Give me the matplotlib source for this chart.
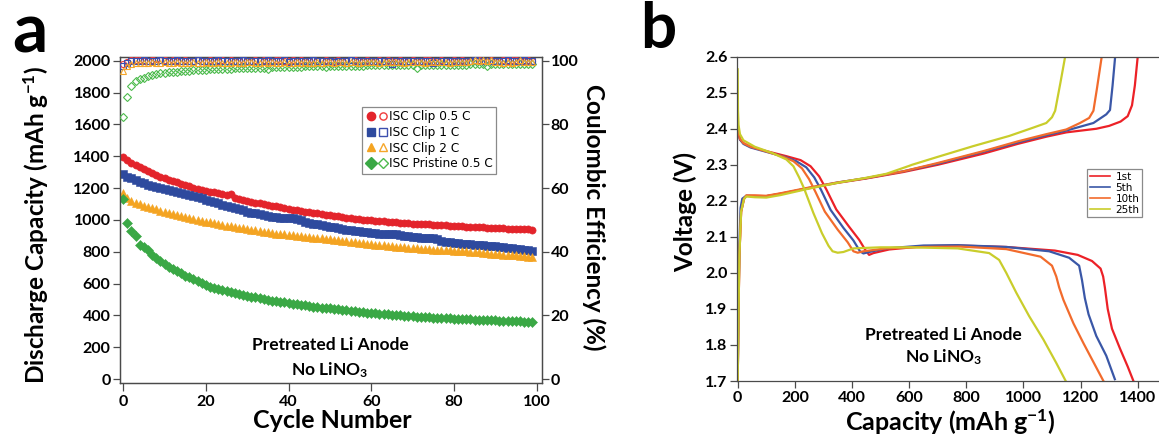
import matplotlib
matplotlib.use("Agg")
import matplotlib.pyplot as plt
from matplotlib.lines import Line2D
from matplotlib.legend_handler import HandlerTuple

plt.rcParams["font.family"] = ["Lato", "DejaVu Sans"]
plt.rcParams["mathtext.fontset"] = "custom"
plt.rcParams["mathtext.rm"] = "Lato:bold"
plt.rcParams["mathtext.bf"] = "Lato:bold"
plt.rcParams["mathtext.it"] = "Lato:bold"

# ---------------- cycling data (panel a) ----------------
cap_clip_05C = [1397, 1375, 1358, 1343, 1330, 1318, 1306, 1295, 1284, 1272,
                1262, 1252, 1244, 1236, 1228, 1218, 1210, 1202, 1195, 1189,
                1182, 1177, 1172, 1166, 1160, 1155, 1160, 1140, 1132, 1124,
                1117, 1112, 1108, 1103, 1099, 1094, 1089, 1084, 1078, 1072,
                1066, 1063, 1059, 1055, 1051, 1047, 1043, 1040, 1036, 1033,
                1030, 1026, 1022, 1018, 1014, 1010, 1007, 1004, 1001, 999,
                997, 995, 993, 991, 989, 987, 985, 983, 981, 979,
                977, 975, 974, 972, 971, 969, 968, 966, 965, 963,
                962, 960, 959, 958, 956, 955, 954, 952, 951, 950,
                948, 947, 946, 945, 944, 943, 942, 941, 940, 939]
cap_clip_1C = [1288, 1272, 1260, 1248, 1238, 1230, 1222, 1215, 1208, 1202,
               1196, 1188, 1180, 1173, 1166, 1160, 1153, 1147, 1141, 1135,
               1127, 1120, 1112, 1104, 1096, 1088, 1081, 1074, 1067, 1060,
               1052, 1046, 1040, 1035, 1030, 1025, 1020, 1016, 1013, 1011,
               1010, 1012, 1004, 996, 989, 983, 977, 971, 966, 961,
               957, 952, 947, 943, 939, 935, 931, 928, 925, 922,
               919, 916, 913, 910, 908, 912, 910, 905, 900, 896,
               893, 890, 888, 887, 887, 885, 878, 870, 863, 858,
               855, 852, 850, 848, 846, 844, 842, 840, 838, 836,
               834, 831, 828, 825, 822, 819, 816, 813, 810, 807]
cap_clip_2C = [1166, 1135, 1120, 1108, 1097, 1088, 1080, 1072, 1065, 1058,
               1051, 1044, 1037, 1031, 1025, 1019, 1013, 1007, 1001, 995,
               989, 984, 979, 974, 969, 964, 959, 955, 951, 946,
               942, 938, 934, 930, 926, 922, 918, 914, 911, 908,
               905, 902, 899, 896, 893, 891, 888, 885, 883, 880,
               877, 874, 871, 868, 865, 862, 859, 856, 853, 850,
               847, 844, 842, 839, 837, 834, 832, 829, 827, 824,
               822, 820, 818, 816, 814, 812, 811, 810, 809, 808,
               807, 806, 805, 803, 801, 798, 795, 792, 790, 788,
               786, 784, 782, 780, 778, 776, 773, 770, 767, 764]
cap_pristine_05C = [1129, 982, 932, 898, 845, 832, 808, 782, 760, 740,
                    722, 705, 690, 676, 663, 650, 638, 627, 616, 606,
                    589, 581, 573, 566, 559, 552, 546, 540, 534, 528,
                    523, 518, 513, 508, 503, 498, 493, 489, 485, 481,
                    477, 473, 469, 465, 462, 458, 455, 452, 449, 446,
                    443, 440, 437, 434, 431, 428, 425, 423, 420, 417,
                    415, 412, 410, 408, 406, 404, 402, 400, 398, 396,
                    394, 392, 391, 389, 388, 386, 385, 383, 382, 381,
                    379, 378, 377, 376, 375, 373, 372, 371, 370, 369,
                    368, 367, 366, 365, 364, 363, 362, 361, 360, 359]

ce_clip_05C = [98.8, 99.6, 100.2, 100.1, 100.3, 100.0, 99.8, 100.2, 100.4, 100.1,
               100.3, 99.9, 100.1, 100.0, 99.8, 100.2, 100.0, 99.9, 100.1, 99.8,
               100.0, 100.2, 99.9, 100.0, 100.1, 99.8, 100.3, 99.9, 100.0, 100.1,
               99.8, 100.0, 100.2, 99.9, 100.1, 100.0, 99.8, 100.1, 100.3, 99.9,
               100.0, 100.2, 99.8, 100.1, 100.0, 99.9, 100.1, 100.0, 99.8, 100.2,
               100.0, 99.9, 100.1, 100.0, 99.8, 100.1, 100.2, 99.9, 100.0, 100.1,
               99.9, 100.0, 100.2, 99.8, 100.1, 100.0, 99.9, 100.1, 100.0, 99.8,
               100.2, 100.0, 99.9, 100.1, 100.3, 99.9, 100.0, 100.1, 99.8, 100.0,
               100.2, 99.9, 100.1, 100.0, 99.8, 100.1, 100.2, 99.9, 100.0, 100.1,
               99.9, 100.0, 100.2, 99.8, 100.1, 100.3, 100.0, 99.9, 100.1, 100.0]
ce_clip_1C = [98.3, 99.4, 99.8, 100.0, 99.9, 100.1, 100.0, 99.8, 100.0, 100.1,
              99.9, 100.0, 99.8, 100.1, 100.0, 99.9, 99.8, 100.0, 100.1, 99.9,
              100.0, 99.8, 99.9, 100.1, 100.0, 99.9, 99.8, 100.0, 99.9, 100.1,
              100.0, 99.8, 99.9, 100.0, 99.9, 100.1, 99.8, 99.9, 100.0, 100.1,
              99.7, 100.0, 99.9, 99.8, 100.0, 99.9, 100.1, 99.8, 99.9, 100.0,
              99.9, 99.7, 100.0, 99.9, 99.8, 100.1, 99.9, 100.0, 99.8, 99.9,
              100.0, 99.8, 99.9, 100.0, 99.9, 98.8, 99.9, 100.0, 99.8, 99.9,
              100.0, 99.9, 99.8, 100.0, 99.9, 99.2, 99.8, 100.0, 99.9, 99.8,
              100.0, 99.9, 99.8, 100.0, 99.9, 100.1, 99.8, 99.9, 100.0, 99.9,
              99.8, 100.0, 99.9, 100.1, 99.8, 99.9, 100.0, 100.2, 99.9, 100.0]
ce_clip_2C = [96.8, 98.2, 98.9, 99.2, 99.3, 99.4, 99.3, 99.5, 99.4, 99.3,
              99.5, 99.4, 99.3, 99.5, 99.4, 99.3, 99.4, 99.5, 99.3, 99.4,
              99.5, 99.4, 99.3, 99.5, 99.4, 99.3, 99.4, 99.5, 99.3, 99.4,
              99.5, 99.6, 99.4, 99.3, 99.5, 99.4, 99.6, 99.3, 99.4, 99.5,
              99.4, 99.3, 99.5, 99.4, 99.6, 99.4, 99.3, 99.5, 99.4, 99.6,
              99.5, 99.4, 99.6, 99.5, 99.4, 99.6, 99.5, 99.4, 99.6, 99.5,
              99.7, 99.5, 99.4, 99.6, 99.5, 99.7, 99.6, 99.5, 99.4, 99.6,
              99.5, 99.7, 99.5, 99.4, 99.6, 99.5, 99.7, 99.6, 99.5, 99.4,
              99.6, 99.5, 99.7, 99.6, 99.9, 100.2, 99.8, 100.3, 99.9, 100.1,
              99.7, 99.6, 99.2, 99.5, 99.4, 99.6, 100.1, 99.7, 99.6, 99.5]
ce_pristine_05C = [82.4, 88.7, 92.0, 93.5, 94.2, 94.7, 95.1, 95.4, 95.7, 96.0,
                   96.2, 96.3, 96.4, 96.5, 96.7, 96.8, 96.9, 97.0, 97.1, 97.1,
                   97.2, 97.3, 97.3, 97.4, 97.4, 97.5, 97.5, 97.6, 97.6, 97.6,
                   97.7, 97.7, 97.7, 97.8, 97.8, 97.4, 97.9, 97.9, 98.0, 98.0,
                   98.1, 98.1, 98.1, 98.1, 98.2, 98.2, 98.2, 98.2, 98.2, 97.9,
                   98.3, 98.3, 98.3, 98.3, 98.3, 98.4, 98.4, 98.4, 98.4, 98.5,
                   98.5, 98.5, 98.5, 98.5, 98.5, 98.5, 98.6, 98.6, 98.6, 98.6,
                   98.6, 97.6, 98.6, 98.6, 98.7, 98.7, 98.7, 98.7, 98.7, 98.7,
                   98.7, 98.7, 98.7, 98.7, 98.8, 98.8, 98.8, 98.8, 98.2, 98.8,
                   98.8, 98.8, 98.8, 98.8, 98.8, 98.8, 98.8, 98.8, 98.8, 98.8]

labels_a = ["ISC Clip 0.5 C", "ISC Clip 1 C", "ISC Clip 2 C", "ISC Pristine 0.5 C"]

# ---------------- voltage profiles (panel b) ----------------
dis_cap_1st = [0, 2, 8, 20, 45, 100, 170, 220, 255, 285, 310, 345, 390, 425, 448, 460, 475,
               530, 650, 770, 940, 1110, 1190, 1240, 1270, 1279, 1285, 1295, 1310, 1338, 1365, 1385]
dis_v_1st = [2.42, 2.39, 2.37, 2.36, 2.35, 2.338, 2.324, 2.313, 2.296, 2.268, 2.232, 2.176, 2.128,
             2.092, 2.062, 2.05, 2.055, 2.065, 2.074, 2.076, 2.072, 2.062, 2.05, 2.033, 2.012, 1.99,
             1.96, 1.90, 1.845, 1.79, 1.74, 1.70]
dis_cap_5th = [0, 2, 8, 20, 45, 100, 165, 205, 240, 268, 292, 325, 370, 405, 428, 440, 460,
               520, 650, 770, 940, 1090, 1160, 1195, 1205, 1215, 1228, 1255, 1290, 1320]
dis_v_5th = [2.42, 2.39, 2.37, 2.358, 2.348, 2.336, 2.322, 2.31, 2.293, 2.265, 2.23, 2.175, 2.125,
             2.09, 2.06, 2.054, 2.058, 2.068, 2.076, 2.077, 2.072, 2.06, 2.042, 2.02, 1.98, 1.93,
             1.885, 1.825, 1.77, 1.705]
dis_cap_10th = [0, 2, 8, 20, 45, 100, 160, 195, 225, 250, 272, 305, 350, 385, 405, 420, 440,
                520, 650, 780, 940, 1060, 1100, 1115, 1125, 1140, 1175, 1210, 1260, 1280]
dis_v_10th = [2.42, 2.39, 2.372, 2.36, 2.35, 2.337, 2.322, 2.31, 2.29, 2.26, 2.225, 2.17, 2.12,
              2.085, 2.06, 2.056, 2.06, 2.068, 2.072, 2.073, 2.066, 2.045, 2.02, 1.99, 1.96, 1.925,
              1.86, 1.805, 1.73, 1.70]
dis_cap_25th = [0, 1, 3, 8, 20, 60, 120, 170, 195, 215, 232, 265, 295, 318, 332, 350, 370, 405,
                500, 600, 770, 880, 915, 940, 975, 1020, 1070, 1115, 1148]
dis_v_25th = [2.565, 2.45, 2.41, 2.385, 2.368, 2.35, 2.333, 2.315, 2.296, 2.265, 2.235, 2.166,
              2.11, 2.075, 2.06, 2.056, 2.058, 2.068, 2.071, 2.071, 2.068, 2.055, 2.036, 2.0,
              1.945, 1.88, 1.815, 1.75, 1.70]

chg_cap_1st = [0, 3, 6, 12, 22, 30, 60, 100, 150, 250, 350, 450, 580, 700, 860, 980, 1080,
               1150, 1255, 1300, 1340, 1365, 1380, 1390, 1400]
chg_v_1st = [1.70, 1.90, 2.05, 2.17, 2.205, 2.214, 2.214, 2.213, 2.22, 2.235, 2.25, 2.262, 2.28,
             2.30, 2.331, 2.358, 2.378, 2.39, 2.40, 2.408, 2.42, 2.435, 2.465, 2.52, 2.60]
chg_cap_5th = [0, 3, 6, 10, 16, 30, 60, 100, 150, 250, 350, 450, 580, 700, 860, 980, 1080,
               1150, 1245, 1290, 1303, 1312, 1321]
chg_v_5th = [1.70, 1.92, 2.08, 2.18, 2.206, 2.214, 2.213, 2.213, 2.219, 2.236, 2.251, 2.263, 2.282,
             2.303, 2.336, 2.362, 2.382, 2.395, 2.416, 2.44, 2.452, 2.52, 2.60]
chg_cap_10th = [0, 3, 6, 12, 22, 30, 60, 100, 150, 250, 350, 450, 580, 700, 860, 980, 1080,
                1150, 1198, 1230, 1245, 1257, 1274]
chg_v_10th = [1.70, 1.90, 2.05, 2.17, 2.206, 2.215, 2.215, 2.214, 2.221, 2.237, 2.251, 2.263,
              2.282, 2.305, 2.338, 2.365, 2.385, 2.398, 2.416, 2.43, 2.45, 2.51, 2.60]
chg_cap_25th = [0, 3, 6, 12, 22, 30, 60, 100, 150, 250, 350, 450, 520, 600, 610, 700, 825, 950,
                1023, 1080, 1100, 1111, 1130, 1146]
chg_v_25th = [1.70, 1.90, 2.05, 2.17, 2.205, 2.212, 2.21, 2.209, 2.216, 2.234, 2.25, 2.264, 2.275,
              2.297, 2.30, 2.322, 2.352, 2.38, 2.40, 2.416, 2.432, 2.45, 2.53, 2.60]

labels_b = ["1st", "5th", "10th", "25th"]

# ---------------- styling ----------------
W, H = 1159, 438
spine_col = "#4a4a4a"
col_a_fill = ["#e3242b", "#2e4a9e", "#f4a422", "#3aa845"]
col_a_open = ["#ef3b3b", "#3c4fae", "#f5a62a", "#4cbb4c"]
mk_a = ["o", "s", "^", "D"]
col_b = ["#ec2127", "#3a57a7", "#f26b2c", "#c9cd2b"]


def fx(px):
    return px / W


def fy(py):
    return 1 - py / H


fig = plt.figure(figsize=(W / 100, H / 100), dpi=100)

# ---------- panel a ----------
axa = fig.add_axes([fx(119.5), fy(383.3), fx(541.5 - 119.5), (383.3 - 56.7) / H])
axr = axa.twinx()

cap_series = [cap_clip_05C, cap_clip_1C, cap_clip_2C, cap_pristine_05C]
ce_series = [ce_clip_05C, ce_clip_1C, ce_clip_2C, ce_pristine_05C]

for vals, c, m in zip(cap_series, col_a_fill, mk_a):
    ms = 5.2 if m != "D" else 4.8
    axa.plot(range(len(vals)), vals, linestyle="none", marker=m, ms=ms,
             mfc=c, mec=c, mew=0.4, zorder=3)

for idx in [3, 0, 1, 2]:
    vals = ce_series[idx]
    m = mk_a[idx]
    ms = 4.4 if m != "D" else 4.2
    axr.plot(range(len(vals)), vals, linestyle="none", marker=m, ms=ms,
             mfc="none", mec=col_a_open[idx], mew=0.8, zorder=3)

axa.set_xlim(-0.9, 101.2)
axa.set_ylim(-27, 2025)
axr.set_ylim(-27 / 20, 2025 / 20)
axa.set_xticks(range(0, 101, 20))
axa.set_yticks(range(0, 2001, 200))
axr.set_yticks(range(0, 101, 20))

for ax in (axa, axr):
    for s in ax.spines.values():
        s.set_color(spine_col)
        s.set_linewidth(0.9)
    ax.tick_params(colors=spine_col, labelcolor="black", width=0.9, length=5,
                   labelsize=11.5, pad=1.5)
    for lab in ax.get_xticklabels() + ax.get_yticklabels():
        lab.set_fontweight("bold")
axa.tick_params(axis="x", length=6, pad=2.5)

handles = []
for i in range(4):
    ms = 6.0 if mk_a[i] != "D" else 5.8
    h1 = Line2D([], [], linestyle="none", marker=mk_a[i], ms=ms, mfc=col_a_fill[i], mec=col_a_fill[i])
    h2 = Line2D([], [], linestyle="none", marker=mk_a[i], ms=ms - 0.8, mfc="none",
                mec=col_a_open[i], mew=1.0)
    handles.append((h1, h2))
leg = axr.legend(handles, labels_a, handler_map={tuple: HandlerTuple(ndivide=None, pad=0.1)},
                 loc="upper left", bbox_to_anchor=(fx(361.7), fy(106.7)),
                 bbox_transform=fig.transFigure, frameon=True, fancybox=False,
                 framealpha=1, edgecolor="#8a8a8a", handlelength=1.9, handletextpad=0.05,
                 labelspacing=0.22, borderpad=0.3, borderaxespad=0,
                 prop={"family": "DejaVu Sans", "size": 8.7})
leg.get_frame().set_linewidth(0.9)

axa.text(50, 213, "Pretreated Li Anode", ha="center", va="center",
         fontsize=12.5, fontweight="bold")
axa.text(50, 58, r"No LiNO$_{\mathrm{3}}$", ha="center", va="center",
         fontsize=12.5, fontweight="bold")

fig.text(fx(36), fy(225), r"Discharge Capacity (mAh g$^{\mathrm{-1}}$)", rotation=90,
         ha="center", va="center", fontsize=17.5, fontweight="bold")
fig.text(fx(332), fy(421), "Cycle Number", ha="center", va="center",
         fontsize=18, fontweight="bold")
fig.text(fx(594), fy(217), "Coulombic Efficiency (%)", rotation=270,
         ha="center", va="center", fontsize=17.5, fontweight="bold")
fig.text(fx(30), fy(33), "a", ha="center", va="center", fontsize=50, fontweight="bold")

# ---------- panel b ----------
axb = fig.add_axes([fx(736.7), fy(381), fx(W - 736.7), (381 - 56.7) / H])

curves = [
    (dis_cap_1st, dis_v_1st, chg_cap_1st, chg_v_1st),
    (dis_cap_5th, dis_v_5th, chg_cap_5th, chg_v_5th),
    (dis_cap_10th, dis_v_10th, chg_cap_10th, chg_v_10th),
    (dis_cap_25th, dis_v_25th, chg_cap_25th, chg_v_25th),
]
for (dc, dv, cc, cv), c, lab in zip(curves, col_b, labels_b):
    axb.plot(dc, dv, color=c, lw=1.6, label=lab, solid_joinstyle="round")
    axb.plot(cc, cv, color=c, lw=1.6, solid_joinstyle="round")

axb.set_xlim(-3.5, 1474.5)
axb.set_ylim(1.7, 2.6)
axb.set_xticks(range(0, 1401, 200))
axb.set_yticks([1.7, 1.8, 1.9, 2.0, 2.1, 2.2, 2.3, 2.4, 2.5, 2.6])
axb.set_yticklabels([f"{v:.1f}" for v in [1.7, 1.8, 1.9, 2.0, 2.1, 2.2, 2.3, 2.4, 2.5, 2.6]])
axb.spines["right"].set_visible(False)
for s in axb.spines.values():
    s.set_color(spine_col)
    s.set_linewidth(0.9)
axb.tick_params(colors=spine_col, labelcolor="black", width=0.9, length=5,
                labelsize=11.5, pad=1.5)
axb.tick_params(axis="x", pad=2.5)
for lab in axb.get_xticklabels() + axb.get_yticklabels():
    lab.set_fontweight("bold")

legb = axb.legend(loc="upper left", bbox_to_anchor=(fx(1087), fy(169)),
                  bbox_transform=fig.transFigure, frameon=True, fancybox=False,
                  framealpha=1, edgecolor="#8a8a8a", handlelength=2.0, handletextpad=0.5,
                  labelspacing=0.1, borderpad=0.25, borderaxespad=0,
                  prop={"family": "DejaVu Sans", "size": 7.5})
legb.get_frame().set_linewidth(0.9)
for ln in legb.get_lines():
    ln.set_linewidth(1.2)

axb.text(720, 1.828, "Pretreated Li Anode", ha="center", va="center",
         fontsize=12.5, fontweight="bold")
axb.text(720, 1.765, r"No LiNO$_{\mathrm{3}}$", ha="center", va="center",
         fontsize=12.5, fontweight="bold")

fig.text(fx(685), fy(212), "Voltage (V)", rotation=90, ha="center", va="center",
         fontsize=17.5, fontweight="bold")
fig.text(fx(950), fy(422), r"Capacity (mAh g$^{\mathrm{-1}}$)", ha="center", va="center",
         fontsize=18, fontweight="bold")
fig.text(fx(658), fy(30), "b", ha="center", va="center", fontsize=46, fontweight="bold")

fig.savefig("out.png", dpi=100)
